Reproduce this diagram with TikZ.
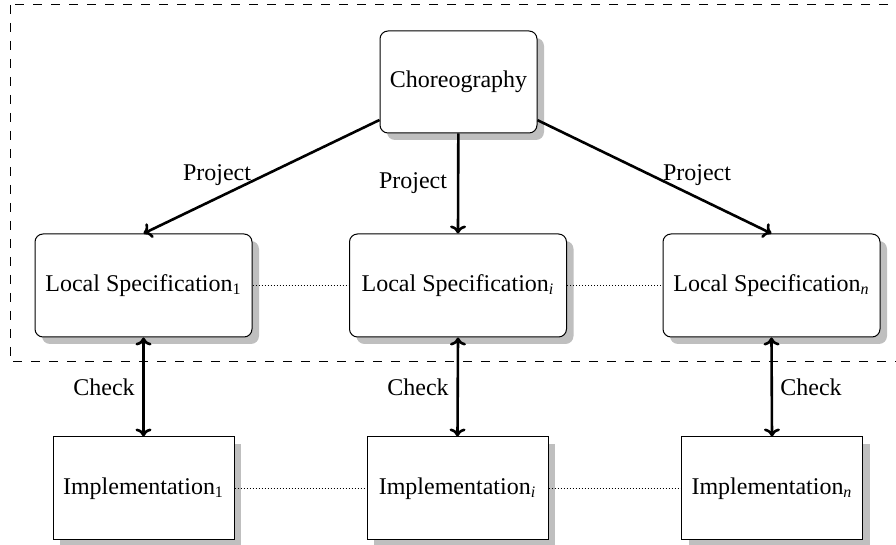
\documentclass[tikz,border=0pt]{standalone}
\usepackage{fontspec}
\setmainfont{Liberation Serif}
\usetikzlibrary{shadows,arrows.meta}
\begin{document}
\begin{tikzpicture}[
  x=0.5pt, y=-0.5pt,
  font=\fontsize{12}{14}\selectfont,
  shade box/.style={draw, line width=0.5pt, fill=white,
    drop shadow={shadow xshift=3.5pt, shadow yshift=-3.5pt, fill=black!25, opacity=1}},
  chorbox/.style={shade box, rounded corners=4pt, minimum width=78.5pt, minimum height=51pt},
  specbox/.style={shade box, rounded corners=4pt, minimum width=108.5pt, minimum height=51.5pt},
  implbox/.style={shade box, minimum width=90.5pt, minimum height=51.5pt},
  projarrow/.style={line width=1.3pt, -{To[length=4pt,width=8pt]}},
  checkarrow/.style={line width=1.3pt, {To[length=4pt,width=8pt]}-{To[length=4pt,width=8pt]}},
  peerline/.style={line width=0.4pt, dash pattern=on 0.5pt off 1pt},
  scopebox/.style={line width=0.5pt, dash pattern=on 4.5pt off 4.5pt}
]
\useasboundingbox (0,0) rectangle (896,545);
\clip (0,0) rectangle (896,545);

% region of the global view
\draw[scopebox] (10,5) rectangle (920,362);

% nodes
\node[chorbox] (chor) at (458.5,82) {Choreography};

\node[specbox] (s1) at (143.5,285.5) {Local Specification\textsubscript{1}};
\node[specbox] (si) at (458,285.5) {Local Specification\textsubscript{\textit{i}}};
\node[specbox] (sn) at (771.5,285.5) {Local Specification\textsubscript{\textit{n}}};

\node[implbox] (i1) at (143.5,488.5) {Implementation\textsubscript{1}};
\node[implbox] (ii) at (457.5,488.5) {Implementation\textsubscript{\textit{i}}};
\node[implbox] (imn) at (772,488.5) {Implementation\textsubscript{\textit{n}}};

% peer links
\draw[peerline] (s1.east) -- (si.west);
\draw[peerline] (si.east) -- (sn.west);
\draw[peerline] (i1.east) -- (ii.west);
\draw[peerline] (ii.east) -- (imn.west);

% projection
\draw[projarrow] (chor) -- (s1.north);
\draw[projarrow] (chor) -- (si.north);
\draw[projarrow] (chor) -- (sn.north);
\node (p1) at (217,175) {Project};
\node (pi) at (413,183) {Project};
\node (pn) at (697,175) {Project};

% checking
\draw[checkarrow] (s1.south) -- (i1.north);
\draw[checkarrow] (si.south) -- (ii.north);
\draw[checkarrow] (sn.south) -- (imn.north);
\node (c1) at (104,387) {Check};
\node (ci) at (418,387) {Check};
\node (cn) at (811,387) {Check};
\end{tikzpicture}
\end{document}
